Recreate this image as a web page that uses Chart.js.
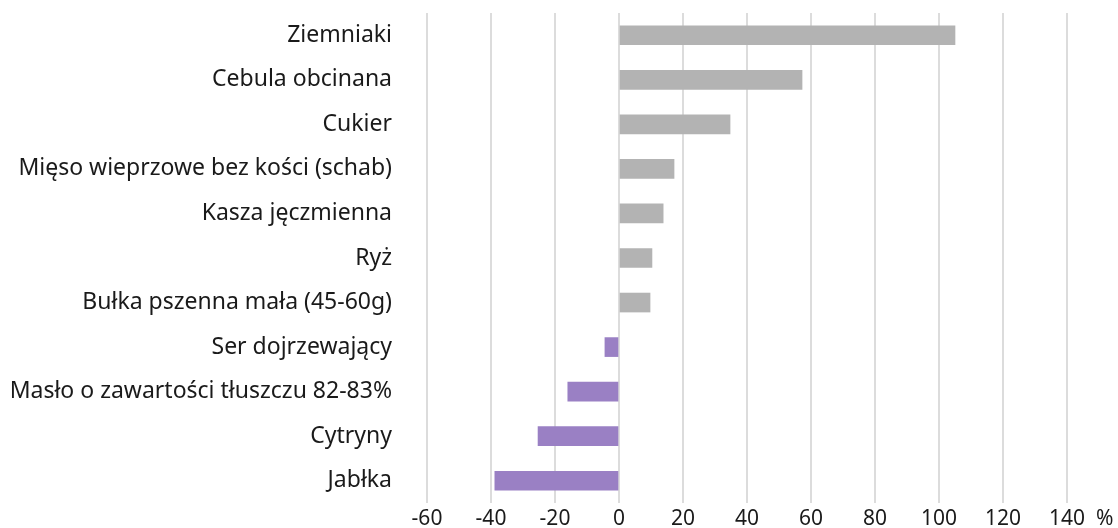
<!DOCTYPE html>
<html>
<head>
<meta charset="utf-8">
<script src="https://cdn.jsdelivr.net/npm/chart.js@4"></script>
<style>
  body { margin: 0; background: #fff; }
  #wrap { width: 1118px; height: 528px; }
</style>
</head>
<body>
<div id="wrap"><canvas id="chart"></canvas></div>
<script>
const products = [
    "Ziemniaki",
    "Cebula obcinana",
    "Cukier",
    "Mięso wieprzowe bez kości (schab)",
    "Kasza jęczmienna",
    "Ryż",
    "Bułka pszenna mała (45-60g)",
    "Ser dojrzewający",
    "Masło o zawartości tłuszczu 82-83%",
    "Cytryny",
    "Jabłka"
];
const changes = [105, 57.2, 34.7, 17.2, 13.8, 10.3, 9.7, -4.4, -16, -25.3, -38.8]; // % change
const xTicks = [-60, -40, -20, 0, 20, 40, 60, 80, 100, 120, 140];
const unitLabel = "%";

const fontName = "'Noto Sans', sans-serif";

// colour depends on the sign: grey up, purple down
const barColors = changes.map(v => v >= 0 ? "#b3b3b3" : "#9a80c4");

// draws the "%" after the last tick label
const unitPlugin = {
    id: "unitLabel",
    afterDraw(chart) {
        const ctx = chart.ctx;
        const x = chart.scales.x;
        ctx.save();
        ctx.font = "21px " + fontName;
        ctx.fillStyle = "#1a1a1a";
        ctx.textAlign = "left";
        ctx.textBaseline = "middle";
        ctx.fillText(unitLabel, x.getPixelForValue(140) + 29, 519);
        ctx.restore();
    }
};

new Chart(document.getElementById("chart"), {
    type: "bar",
    data: {
        labels: products,
        datasets: [{
            data: changes,
            backgroundColor: barColors,
            barThickness: 19
        }]
    },
    options: {
        indexAxis: "y",
        responsive: true,
        maintainAspectRatio: false,
        animation: false,
        layout: { padding: { top: 13, right: 51, left: 0, bottom: 0 } },
        plugins: {
            legend: { display: false },
            tooltip: { enabled: false }
        },
        scales: {
            x: {
                min: -60,
                max: 140,
                afterBuildTicks: s => { s.ticks = xTicks.map(v => ({ value: v })); },
                afterFit: s => { s.height = 25; s.paddingLeft = 0; s.paddingRight = 0; },
                border: { display: false },
                grid: { color: "#dcdcdc", lineWidth: 2, drawTicks: false },
                ticks: {
                    color: "#1a1a1a",
                    padding: 3,
                    maxRotation: 0,
                    font: { family: fontName, size: 21 }
                }
            },
            y: {
                afterFit: s => { s.width = 427; s.paddingTop = 0; s.paddingBottom = 0; },
                border: { display: false },
                grid: { display: false },
                ticks: {
                    color: "#1a1a1a",
                    padding: 27,
                    font: { family: fontName, size: 23 }
                }
            }
        }
    },
    plugins: [unitPlugin]
});
</script>
</body>
</html>
